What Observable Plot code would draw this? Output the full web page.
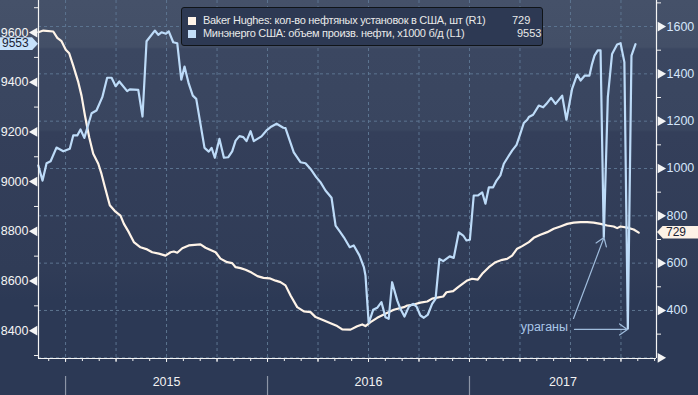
<!DOCTYPE html>
<html><head><meta charset="utf-8">
<script src="https://cdn.jsdelivr.net/npm/d3@7"></script>
<script src="https://cdn.jsdelivr.net/npm/@observablehq/plot@0.6"></script>
<style>
body{margin:0;background:#2c3955;}
#wrap{position:relative;width:698px;height:395px;overflow:hidden;font-family:"Liberation Sans",Arial,sans-serif;}
#legend{position:absolute;left:181px;top:7px;width:360px;height:37px;background:#2d3953;border:1px solid #101418;border-radius:3px;color:#e9e9e9;font-size:11px;letter-spacing:-0.3px;}
.row{position:absolute;left:6px;height:13px;line-height:13px;white-space:nowrap;}
.sw{position:absolute;left:0;top:3px;width:8px;height:8px;}
.lt{position:absolute;left:15px;top:0;}
.lv{position:absolute;top:0;letter-spacing:0;}
.tag{position:absolute;font-size:12px;color:#1b2233;line-height:13px;height:13px;}
</style></head><body><div id="wrap"><div id="legend"></div></div>
<script>
// ---- data (decimal years) ----
const oilT = [2014.865,2014.886,2014.906,2014.926,2014.955,2014.989,2015.021,2015.038,2015.058,2015.074,
2015.093,2015.129,2015.153,2015.182,2015.206,2015.228,2015.248,2015.266,2015.305,2015.318,
2015.360,2015.381,2015.401,2015.442,2015.459,2015.475,2015.497,2015.511,2015.533,2015.553,
2015.573,2015.589,2015.610,2015.630,2015.647,2015.688,2015.709,2015.723,2015.739,2015.762,
2015.784,2015.805,2015.825,2015.842,2015.861,2015.880,2015.896,2015.916,2015.932,2015.970,
2015.995,2016.020,2016.045,2016.078,2016.089,2016.110,2016.130,2016.163,2016.188,2016.213,
2016.241,2016.262,2016.287,2016.317,2016.337,2016.361,2016.378,2016.407,2016.427,2016.455,
2016.477,2016.485,2016.501,2016.523,2016.543,2016.564,2016.584,2016.600,2016.617,2016.642,
2016.658,2016.678,2016.700,2016.721,2016.738,2016.757,2016.774,2016.794,2016.815,2016.832,
2016.851,2016.870,2016.902,2016.922,2016.947,2016.969,2016.985,2017.002,2017.021,2017.041,
2017.063,2017.079,2017.096,2017.117,2017.134,2017.153,2017.170,2017.190,2017.211,2017.233,
2017.249,2017.269,2017.286,2017.294,2017.315,2017.343,2017.365,2017.381,2017.404,2017.426,
2017.459,2017.480,2017.508,2017.533,2017.550,2017.571,2017.594,2017.607,2017.619,2017.635,
2017.649,2017.665,2017.685,2017.706,2017.731,2017.748,2017.767,2017.784,2017.802,2017.822];
const oilV = [9065,9004,9074,9082,9137,9122,9132,9186,9186,9210,
9176,9275,9286,9340,9418,9418,9384,9403,9364,9371,
9369,9262,9565,9608,9591,9601,9595,9605,9561,9557,
9410,9463,9394,9346,9333,9136,9121,9136,9096,9172,
9096,9098,9122,9165,9183,9179,9163,9203,9163,9182,
9206,9222,9233,9217,9215,9165,9118,9078,9074,9051,
9018,8998,8964,8935,8823,8796,8776,8736,8743,8703,
8656,8622,8430,8484,8492,8515,8454,8448,8595,8522,
8488,8457,8497,8508,8497,8461,8452,8465,8508,8528,
8689,8680,8699,8693,8796,8783,8763,8766,8944,8944,
8957,8911,8977,8977,9004,9025,9072,9098,9125,9148,
9186,9236,9249,9260,9269,9306,9299,9313,9337,9313,
9346,9249,9373,9431,9407,9427,9427,9474,9507,9528,
9528,8776,9340,9514,9552,9557,9481,8408,9507,9553];
const rigT = [2014.865,2014.890,2014.939,2014.959,2014.980,2015.001,2015.018,2015.038,2015.063,2015.079,
2015.096,2015.117,2015.137,2015.162,2015.178,2015.195,2015.219,2015.244,2015.272,2015.289,
2015.313,2015.338,2015.371,2015.404,2015.429,2015.462,2015.495,2015.520,2015.536,2015.553,
2015.578,2015.610,2015.668,2015.693,2015.743,2015.767,2015.800,2015.825,2015.842,2015.866,
2015.891,2015.921,2015.950,2015.980,2016.010,2016.040,2016.064,2016.089,2016.114,2016.147,
2016.180,2016.213,2016.238,2016.271,2016.312,2016.345,2016.370,2016.411,2016.444,2016.469,
2016.485,2016.510,2016.543,2016.576,2016.625,2016.675,2016.692,2016.724,2016.757,2016.791,
2016.815,2016.840,2016.870,2016.886,2016.919,2016.947,2016.989,2017.013,2017.041,2017.063,
2017.096,2017.129,2017.162,2017.186,2017.211,2017.236,2017.261,2017.294,2017.318,2017.351,
2017.385,2017.417,2017.450,2017.484,2017.516,2017.550,2017.583,2017.615,2017.649,2017.682,
2017.714,2017.731,2017.748,2017.781,2017.813,2017.838];
const rigV = [1576,1583,1579,1552,1538,1502,1487,1435,1365,1308,
1224,1132,1062,1020,977,921,845,820,801,766,
731,689,667,658,646,640,632,646,649,644,
663,675,679,665,646,619,604,600,583,579,
572,560,545,538,536,526,520,506,463,414,
396,393,372,361,346,334,320,319,333,341,
334,351,369,383,403,414,421,425,433,438,
450,454,459,477,482,501,527,534,530,555,
583,604,614,618,632,661,672,689,707,720,
731,745,755,766,771,773,773,771,766,759,
755,748,755,750,742,729];
const leftTicks = [8400,8600,8800,9000,9200,9400,9600];
const leftMinor = [8300,8500,8700,8900,9100,9300,9500,9700];
const rightTicks = [200,400,600,800,1000,1200,1400,1600];
const rightMinor = [300,500,700,900,1100,1300,1500,1700];
const yearLabels = ["2015","2016","2017"];
const yearStarts = [2015,2016,2017];
const quarterLines = [2015,2015.25,2015.5,2015.75,2016,2016.25,2016.5,2016.75,2017,2017.25,2017.5,2017.75];
const legendNames = ["Baker Hughes: кол-во нефтяных установок в США, шт (R1)","Минэнерго США: объем произв. нефти, x1000 б/д (L1)"];
const legendValues = ["729","9553"];
const annotationText = "ураганы";
const annotationPos = [2017.371, 8413];
const arrowsData = [[2017.515,8449,2017.666,8775],[2017.520,8405,2017.782,8405]];

const xDomain = [2014.866, 2017.926];
const yDomain = [8288, 9729];
const rDomain = [197, 1710];
const r2l = d3.scaleLinear().domain(rDomain).range(yDomain);

const oil = oilT.map((t,i)=>({t, v: oilV[i]}));
const rig = rigT.map((t,i)=>({t, v: rigV[i]}));
const months = d3.range(0, 37).map(k => 2014 + 11/12 + k/12).filter(m => m <= xDomain[1]);
const yearMid = yearStarts.map(s => (Math.max(s, xDomain[0]) + Math.min(s+1, xDomain[1]))/2);

const BLUE = "#bddbf8", CREAM = "#fff4e8", GRID = "#5c7490";
const yPix = d3.scaleLinear().domain(yDomain).range([358, 0]);

const plot = Plot.plot({
  width: 698, height: 395,
  marginLeft: 38, marginRight: 42, marginTop: 0, marginBottom: 37,
  style: {background: "linear-gradient(to bottom,#455169 0px,#434f67 47px,#3b4761 49px,#39455f 130px,#343f5a 132px,#303c57 270px,#2c3955 300px,#2c3955 395px)", fontFamily: "Liberation Sans, Arial, sans-serif", fontSize: "12.5px", color: "#f2f2f2"},
  x: {domain: xDomain, axis: null},
  y: {domain: yDomain, axis: null},
  marks: [
    Plot.ruleY(rightTicks.map(r2l), {stroke: GRID, strokeDasharray: "3,3", strokeWidth: 1}),
    Plot.ruleX(quarterLines, {stroke: GRID, strokeDasharray: "3,3", strokeWidth: 1}),
    Plot.ruleX(yearStarts, {y1: yPix.invert(376), y2: yPix.invert(396), stroke: "#8c95a6", strokeWidth: 1.2}),
    Plot.line(rig, {x: "t", y: d => r2l(d.v), stroke: CREAM, strokeWidth: 2.2}),
    Plot.line(oil, {x: "t", y: "v", stroke: BLUE, strokeWidth: 2.2}),
    Plot.arrow(arrowsData, {x1: d=>d[0], y1: d=>d[1], x2: d=>d[2], y2: d=>d[3], stroke: "#9fbcdc", strokeWidth: 1.2, headLength: 12, headAngle: 70}),
    Plot.text([annotationText], {x: annotationPos[0], y: annotationPos[1], fill: "#a9c6e8", fontSize: 12.5}),
    Plot.ruleX([xDomain[0], xDomain[1]], {stroke: "#f4f4f4", strokeWidth: 1.2}),
    Plot.ruleY([yDomain[0]], {stroke: "#f4f4f4", strokeWidth: 1.2}),
    Plot.axisX({ticks: months, tickSize: 3, tickFormat: () => "", stroke: "#f0f0f0", label: null}),
    Plot.axisX({ticks: quarterLines, tickSize: 4, tickFormat: () => "", stroke: "#f0f0f0", label: null}),
    Plot.text(yearLabels, {x: (d,i) => yearMid[i], frameAnchor: "bottom", dy: 27, fill: "#f2f2f2", fontSize: 12.5}),
    Plot.axisY({anchor: "left", ticks: leftMinor, tickSize: 4, tickFormat: () => "", stroke: "#f0f0f0", label: null}),
    Plot.dot(leftTicks, {y: d => d, frameAnchor: "left", symbol: "triangle", r: 3.6, rotate: -90, fill: "#f4f4f4", dx: -4}),
    Plot.axisY({anchor: "left", ticks: leftTicks, tickSize: 0, tickPadding: 10, tickFormat: d3.format("d"), fill: "#f4f4f4", label: null, fontSize: 12.5}),
    Plot.axisY({anchor: "right", ticks: rightMinor.map(r2l), tickSize: 4, tickFormat: () => "", stroke: "#f0f0f0", label: null}),
    Plot.dot(rightTicks, {y: d => r2l(d), frameAnchor: "right", symbol: "triangle", r: 3.6, rotate: 90, fill: "#f4f4f4", dx: 4}),
    Plot.axisY({anchor: "right", ticks: rightTicks.filter(v => v > 200).map(r2l), tickFormat: d => String(Math.round(r2l.invert(d))), tickSize: 0, tickPadding: 10, fill: "#d5e7fb", label: null, fontSize: 12.5})
  ]
});
const wrap = document.getElementById("wrap");
wrap.insertBefore(plot, wrap.firstChild);

// legend
const legend = document.getElementById("legend");
const swatches = [CREAM, "#c3def9"];
const valueLefts = [324, 329];
legendNames.forEach((name, i) => {
  const row = document.createElement("div");
  row.className = "row";
  row.style.top = (6 + i*13) + "px";
  row.innerHTML = `<div class="sw" style="background:${swatches[i]}"></div><div class="lt">${name}</div>`;
  const val = document.createElement("div");
  val.className = "lv"; val.style.left = valueLefts[i] + "px"; val.textContent = legendValues[i];
  row.appendChild(val);
  legend.appendChild(row);
});

// last-value tags positioned through the plot's y scale
const ys = plot.scale("y");
function tag(text, y, left, width, bg, pointRight) {
  const d = document.createElement("div");
  d.className = "tag";
  d.textContent = text;
  d.style.top = (y - 6.5) + "px";
  d.style.left = left + "px";
  d.style.width = width + "px";
  d.style.background = bg;
  d.style.boxSizing = "border-box";
  if (pointRight) {
    d.style.clipPath = "polygon(0 0, calc(100% - 6px) 0, 100% 50%, calc(100% - 6px) 100%, 0 100%)";
    d.style.paddingLeft = "2px";
  } else {
    d.style.clipPath = "polygon(6px 0, 100% 0, 100% 100%, 6px 100%, 0 50%)";
    d.style.paddingLeft = "9px";
  }
  wrap.appendChild(d);
}
tag(legendValues[1], ys.apply(+legendValues[1]), 0, 38, "#c6e1fb", true);
tag(legendValues[0], ys.apply(r2l(+legendValues[0])), 657, 41, "#fdf2e6", false);
</script></body></html>
